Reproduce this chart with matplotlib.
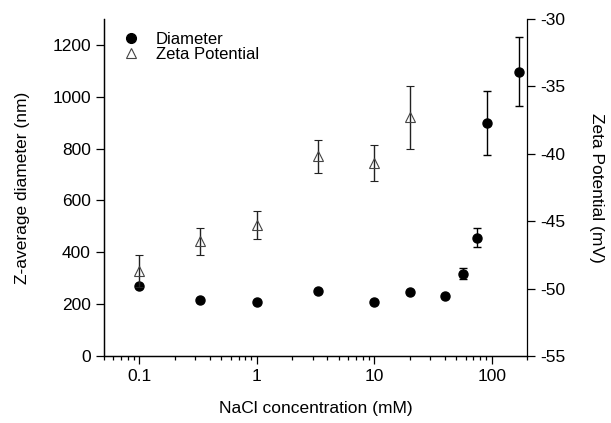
import matplotlib
matplotlib.use("Agg")
import matplotlib.pyplot as plt
from matplotlib.lines import Line2D
from matplotlib.ticker import LogLocator, NullFormatter, FixedLocator
import numpy as np

plt.rcParams['font.family'] = ['Liberation Sans', 'DejaVu Sans']
plt.rcParams['axes.unicode_minus'] = False

# diameter data (left axis)
nacl_d = [0.1, 0.33, 1, 3.3, 10, 20, 40, 57, 75, 92, 170]
diameter = [270, 215, 208, 249, 209, 246, 232, 318, 457, 900, 1097]
diameter_err = [0, 0, 0, 0, 0, 0, 0, 21, 37, 124, 134]

# zeta potential data (right axis)
nacl_z = [0.1, 0.33, 1, 3.3, 10, 20]
zeta = [-48.7, -46.5, -45.3, -40.2, -40.7, -37.3]
zeta_err = [1.2, 1.0, 1.05, 1.25, 1.35, 2.35]

fig = plt.figure(figsize=(6.11, 4.23), dpi=100)
ax = fig.add_axes([104 / 611, 67 / 423, (527 - 104) / 611, (356 - 19) / 423])
ax2 = ax.twinx()

d_err = [e if e > 0 else np.nan for e in diameter_err]
ax.errorbar(nacl_d, diameter, yerr=d_err, fmt='o', color='black',
            ms=6.5, capsize=3.2, elinewidth=1.0, capthick=1.0)
ax2.errorbar(nacl_z, zeta, yerr=zeta_err, fmt='^', mfc='none', mec='#444444',
             mew=0.8, ms=7, ecolor='#222222', capsize=3.2, elinewidth=1.0,
             capthick=1.0)

ax.set_xscale('log')
ax.set_xlim(0.05, 200)
ax.set_ylim(0, 1300)
ax2.set_ylim(-55, -30)
ax.set_yticks([0, 200, 400, 600, 800, 1000, 1200])
ax2.set_yticks([-55, -50, -45, -40, -35, -30])
ax.xaxis.set_major_locator(FixedLocator([0.1, 1, 10, 100]))
ax.set_xticklabels(['0.1', '1', '10', '100'])
ax.xaxis.set_minor_locator(LogLocator(base=10, subs=np.arange(2, 10), numticks=20))
ax.xaxis.set_minor_formatter(NullFormatter())

for a in (ax, ax2):
    a.spines['top'].set_visible(False)
    for s in a.spines.values():
        s.set_linewidth(0.9)
ax.spines['right'].set_visible(False)
ax.tick_params(axis='both', which='major', length=6, width=0.9, labelsize=12.5, direction='out')
ax.tick_params(axis='x', which='minor', length=3, width=0.9, direction='out')
ax2.tick_params(axis='y', which='major', length=6, width=0.9, labelsize=12.5, direction='out')

ax.set_xlabel('NaCl concentration (mM)', fontsize=12.5, labelpad=12)
ax.set_ylabel('Z-average diameter (nm)', fontsize=12.5, labelpad=16)
ax2.set_ylabel('Zeta Potential (mV)', fontsize=12.5, rotation=270, labelpad=28)

h1 = Line2D([], [], ls='none', marker='o', color='black', ms=7)
h2 = Line2D([], [], ls='none', marker='^', mfc='none', mec='#444444', mew=0.8, ms=7)
ax2.legend(handles=[h1, h2], labels=['Diameter', 'Zeta Potential'], loc='upper left',
           frameon=False, fontsize=12, bbox_to_anchor=(0.005, 1.005), handlelength=1.2,
           handletextpad=0.9, labelspacing=0.0, borderaxespad=0.5)

fig.savefig('out.png', dpi=100)
